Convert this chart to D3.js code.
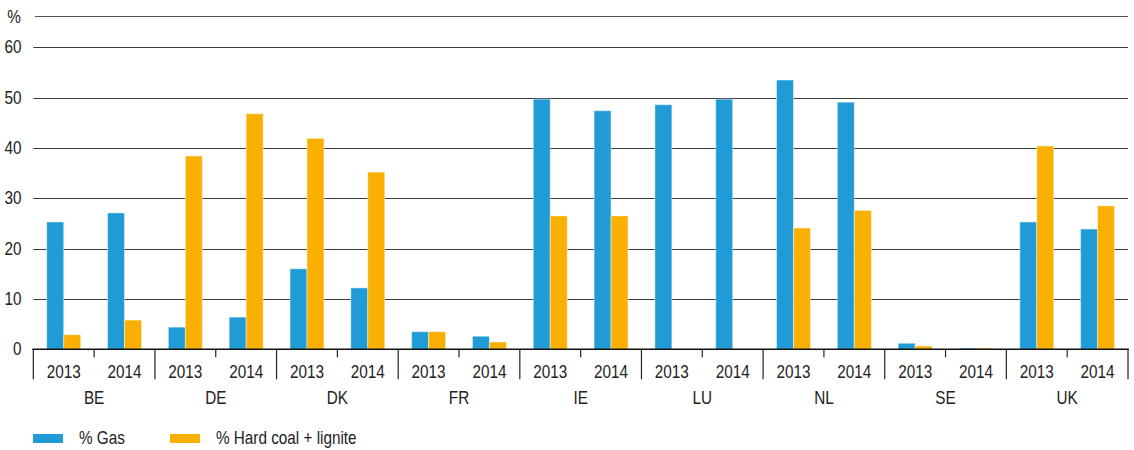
<!DOCTYPE html>
<html>
<head>
<meta charset="utf-8">
<script src="https://cdn.jsdelivr.net/npm/d3@7"></script>
<style>
  body { margin: 0; background: #fff; }
  svg text { font-family: "Liberation Sans", Arial, sans-serif; font-size: 18px; fill: #222; }
</style>
</head>
<body>
<div id="chart"></div>
<script>
// data
const countries = ["BE", "DE", "DK", "FR", "IE", "LU", "NL", "SE", "UK"];
const years = ["2013", "2014"];
const seriesNames = ["% Gas", "% Hard coal + lignite"];
// one value per country/year, in order BE13, BE14, DE13, ...
const gas = [25.3, 27.1, 4.4, 6.4, 16.0, 12.2, 3.5, 2.6, 49.7, 47.4, 48.6, 49.7, 53.5, 49.1, 1.2, 0.25, 25.3, 23.9];
const coal = [2.9, 5.8, 38.4, 46.8, 41.9, 35.2, 3.5, 1.45, 26.5, 26.5, 0, 0, 24.1, 27.6, 0.65, 0.25, 40.4, 28.5];
const yTicks = [0, 10, 20, 30, 40, 50, 60];
const colors = ["#219bd6", "#f9b000"];

const width = 1134, height = 450;
const margin = { top: 16, right: 6, bottom: 101, left: 33.3 };
const squeeze = 0.85; // the original uses a condensed face

const svg = d3.select("#chart").append("svg")
  .attr("width", width)
  .attr("height", height);

// place text squeezed horizontally around (x, y)
function narrow(sel, fx, fy) {
  sel.attr("transform", function(d, i) {
    return "translate(" + fx(d, i) + "," + fy(d, i) + ") scale(" + squeeze + ",1)";
  });
}

// scales
const x0 = d3.scaleBand()
  .domain(countries)
  .range([margin.left, width - margin.right]);

const x1 = d3.scaleBand()
  .domain(years)
  .range([0, x0.bandwidth()]);

const x2 = d3.scaleBand()
  .domain(seriesNames)
  .range([0, x1.bandwidth()])
  .paddingOuter(0.79);

const y = d3.scaleLinear()
  .domain([0, 60])
  .range([349.3, 47.3]);

// gridlines
svg.append("g")
  .selectAll("line")
  .data(yTicks.filter(d => d > 0))
  .enter()
  .append("line")
  .attr("x1", margin.left)
  .attr("x2", width - margin.right)
  .attr("y1", d => Math.round(y(d)) + 0.5)
  .attr("y2", d => Math.round(y(d)) + 0.5)
  .attr("stroke", "#3a3a3a")
  .attr("stroke-width", 1);

// top line with the unit
svg.append("line")
  .attr("x1", 35)
  .attr("x2", width - margin.right)
  .attr("y1", 16.5)
  .attr("y2", 16.5)
  .attr("stroke", "#555");

svg.append("text")
  .attr("text-anchor", "middle")
  .attr("dominant-baseline", "central")
  .call(narrow, () => 14, () => 17)
  .text("%");

// y labels
svg.append("g")
  .selectAll("text")
  .data(yTicks)
  .enter()
  .append("text")
  .attr("text-anchor", "end")
  .attr("dominant-baseline", "central")
  .call(narrow, () => 21.5, d => y(d))
  .text(d => d);

// bars
const rows = [];
countries.forEach(function(c, i) {
  years.forEach(function(yr, j) {
    rows.push({ country: c, year: yr, values: [gas[i * 2 + j], coal[i * 2 + j]] });
  });
});

const slot = svg.append("g")
  .selectAll("g")
  .data(rows)
  .enter()
  .append("g")
  .attr("transform", d => "translate(" + (x0(d.country) + x1(d.year)) + ",0)");

slot.selectAll("rect")
  .data(d => d.values.map((v, k) => ({ name: seriesNames[k], value: v, k: k })))
  .enter()
  .append("rect")
  .attr("x", d => x2(d.name))
  .attr("width", x2.bandwidth())
  .attr("y", d => y(d.value))
  .attr("height", d => y(0) - y(d.value))
  .attr("fill", d => colors[d.k])
  .attr("stroke", "rgba(255,255,255,0.45)")
  .attr("stroke-width", 1);

// x axis
const axisY = y(0);
svg.append("line")
  .attr("x1", margin.left - 1)
  .attr("x2", width - margin.right + 1)
  .attr("y1", axisY)
  .attr("y2", axisY)
  .attr("stroke", "#111")
  .attr("stroke-width", 1.6);

// country separators
svg.append("g")
  .selectAll("line")
  .data(countries.concat(["end"]))
  .enter()
  .append("line")
  .attr("x1", (d, i) => i < countries.length ? x0(d) : x0.range()[1])
  .attr("x2", (d, i) => i < countries.length ? x0(d) : x0.range()[1])
  .attr("y1", axisY)
  .attr("y2", axisY + 30)
  .attr("stroke", "#222")
  .attr("stroke-width", 1.2);

// year separators
svg.append("g")
  .selectAll("line")
  .data(countries)
  .enter()
  .append("line")
  .attr("x1", d => x0(d) + x1("2014"))
  .attr("x2", d => x0(d) + x1("2014"))
  .attr("y1", axisY)
  .attr("y2", axisY + 8)
  .attr("stroke", "#222")
  .attr("stroke-width", 1.2);

// year labels
svg.append("g")
  .selectAll("text")
  .data(rows)
  .enter()
  .append("text")
  .attr("text-anchor", "middle")
  .attr("dominant-baseline", "central")
  .call(narrow, d => x0(d.country) + x1(d.year) + x1.bandwidth() / 2, () => 372)
  .text(d => d.year);

// country labels
svg.append("g")
  .selectAll("text")
  .data(countries)
  .enter()
  .append("text")
  .attr("text-anchor", "middle")
  .attr("dominant-baseline", "central")
  .call(narrow, d => x0(d) + x0.bandwidth() / 2, () => 398.5)
  .text(d => d);

// legend
const legendX = [33, 170];
const legend = svg.append("g")
  .selectAll("g")
  .data(seriesNames)
  .enter()
  .append("g")
  .attr("transform", (d, i) => "translate(" + legendX[i] + ",434)");

legend.append("rect")
  .attr("width", 30)
  .attr("height", 9)
  .attr("fill", (d, i) => colors[i]);

legend.append("text")
  .attr("dominant-baseline", "central")
  .call(narrow, () => 46, () => 4.5)
  .text(d => d);
</script>
</body>
</html>
